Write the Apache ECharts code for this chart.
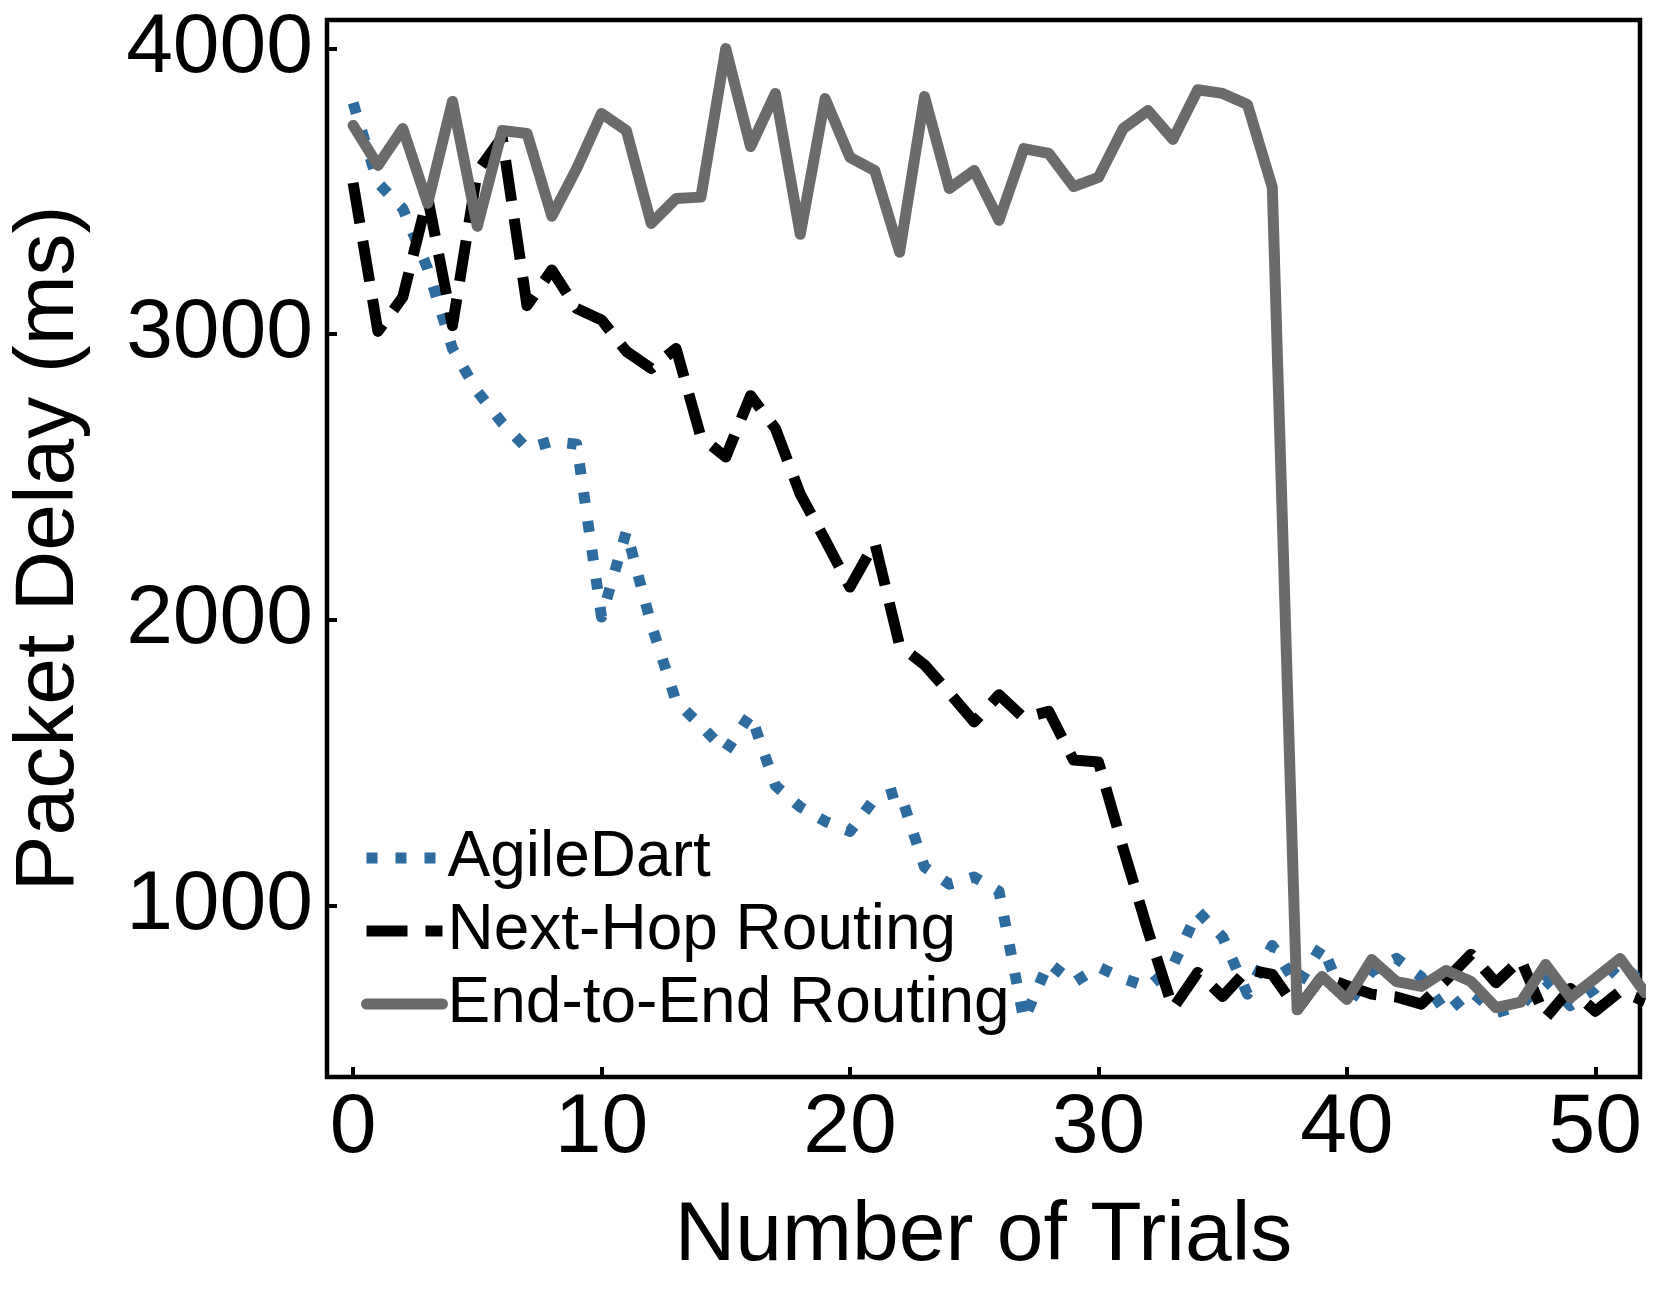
<!DOCTYPE html>
<html>
<head>
<meta charset="utf-8">
<script src="https://cdn.jsdelivr.net/npm/echarts@6/dist/echarts.min.js"></script>
<style>
  html, body { margin: 0; padding: 0; background: #fff; }
  #chart { width: 1660px; height: 1300px; }
</style>
</head>
<body>
<div id="chart"></div>
<script>
const trials = [0,1,2,3,4,5,6,7,8,9,10,11,12,13,14,15,16,17,18,19,20,21,22,23,24,25,26,27,28,29,30,31,32,33,34,35,36,37,38,39,40,41,42,43,44,45,46,47,48,49,50,51,52];

const agileDart = [3810,3530,3440,3230,2950,2800,2690,2600,2625,2615,2010,2310,1985,1715,1630,1540,1670,1420,1345,1295,1260,1375,1400,1135,1075,1100,1050,600,800,730,785,745,715,790,980,890,690,860,720,860,650,770,815,750,625,700,625,650,740,650,710,800,720];

const nextHop = [3530,3010,3130,3480,3030,3570,3690,3100,3225,3090,3050,2940,2880,2950,2640,2570,2785,2670,2440,2280,2115,2270,1910,1843,1745,1643,1738,1657,1680,1510,1503,1200,910,640,766,682,776,759,636,752,720,690,680,655,740,830,730,812,607,710,630,700,665];

const endToEnd = [3731,3591,3720,3458,3815,3378,3713,3703,3413,3580,3773,3713,3388,3475,3480,4000,3657,3843,3350,3825,3619,3573,3287,3832,3510,3573,3399,3650,3633,3517,3549,3720,3783,3682,3856,3843,3804,3514,635,752,671,811,734,717,773,734,643,662,794,678,745,815,695];

const seriesNames = ['AgileDart', 'Next-Hop Routing', 'End-to-End Routing'];
const xTicks = [0, 10, 20, 30, 40, 50];
const yTicks = [1000, 2000, 3000, 4000];

const FONT = '"Liberation Sans", Arial, Helvetica, sans-serif';

function pairs(vals) { return trials.map((t, i) => [t, vals[i]]); }

const chart = echarts.init(document.getElementById('chart'), null, { renderer: 'canvas' });

const option = {
  animation: false,
  backgroundColor: '#ffffff',
  grid: {
    left: 327, right: 20, top: 20, bottom: 223,
    show: true, borderColor: '#000', borderWidth: 4.5, backgroundColor: 'transparent'
  },
  legend: {
    orient: 'vertical',
    left: 361,
    top: 826,
    padding: 0,
    itemWidth: 76,
    itemHeight: 22,
    itemGap: 9,
    data: seriesNames,
    lineStyle: { width: 11 },
    itemStyle: { opacity: 0, borderWidth: 0 },
    textStyle: { fontSize: 64, color: '#000', fontFamily: FONT },
    selectedMode: false
  },
  xAxis: {
    type: 'value',
    min: -1.05,
    max: 51.8,
    name: 'Number of Trials',
    nameLocation: 'middle',
    nameGap: 118,
    nameTextStyle: { fontSize: 84, color: '#000', fontFamily: FONT },
    axisLine: { show: false, onZero: false },
    axisTick: { show: true, inside: true, length: 10, lineStyle: { color: '#000', width: 4 }, customValues: xTicks },
    axisLabel: { fontSize: 84, color: '#000', fontFamily: FONT, margin: 10, customValues: xTicks, formatter: v => String(v) },
    splitLine: { show: false }
  },
  yAxis: {
    type: 'value',
    min: 400,
    max: 4100,
    name: 'Packet Delay (ms)',
    nameLocation: 'middle',
    nameGap: 235,
    nameRotate: 90,
    nameTextStyle: { fontSize: 84, color: '#000', fontFamily: FONT },
    axisLine: { show: false, onZero: false },
    axisTick: { show: true, inside: true, length: 10, lineStyle: { color: '#000', width: 4 }, customValues: yTicks },
    axisLabel: { fontSize: 84, color: '#000', fontFamily: FONT, margin: 14, customValues: yTicks, formatter: v => String(v) },
    splitLine: { show: false }
  },
  series: [
    {
      name: seriesNames[0], type: 'line', data: pairs(agileDart), symbol: 'none', clip: true,
      lineStyle: { color: '#2e6b9e', width: 11, type: [11, 18], cap: 'butt', join: 'round' },
      itemStyle: { color: '#2e6b9e' }, z: 2
    },
    {
      name: seriesNames[1], type: 'line', data: pairs(nextHop), symbol: 'none', clip: true,
      lineStyle: { color: '#000000', width: 11, type: [41, 18], cap: 'butt', join: 'round' },
      itemStyle: { color: '#000000' }, z: 3
    },
    {
      name: seriesNames[2], type: 'line', data: pairs(endToEnd), symbol: 'none', clip: true,
      lineStyle: { color: '#6b6b6b', width: 11, type: 'solid', cap: 'round', join: 'round' },
      itemStyle: { color: '#6b6b6b' }, z: 4
    }
  ]
};

chart.setOption(option);
</script>
</body>
</html>
